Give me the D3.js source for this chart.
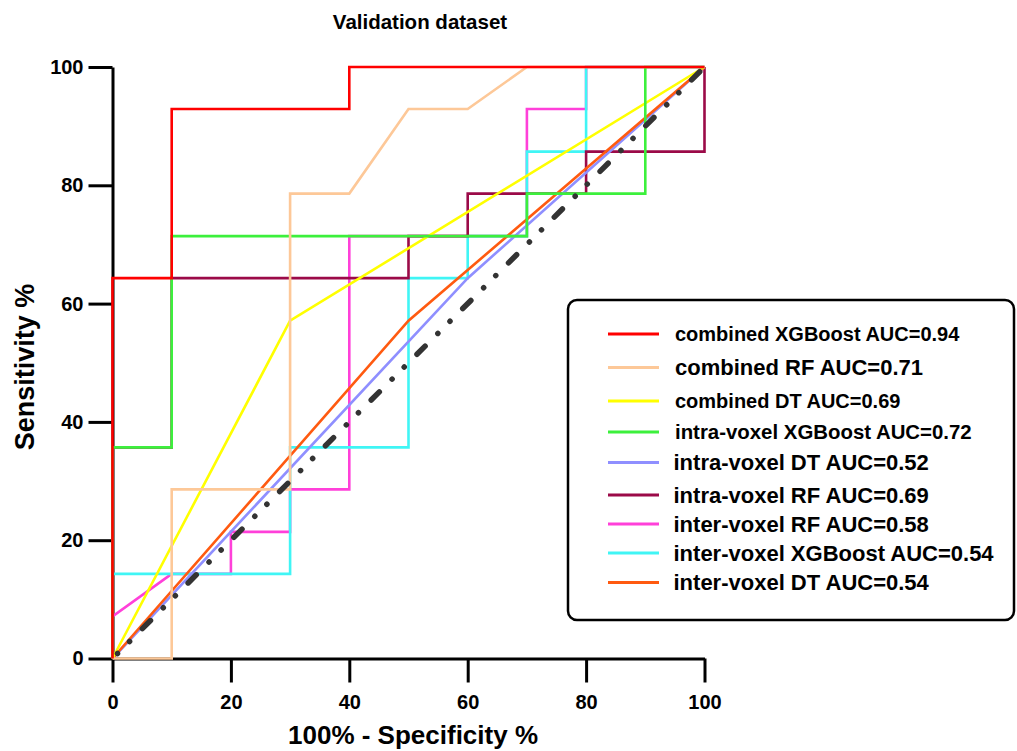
<!DOCTYPE html>
<html>
<head>
<meta charset="utf-8">
<script src="https://cdn.jsdelivr.net/npm/d3@7"></script>
<style>
  body { margin: 0; background: #fff; }
  svg text { font-family: "Liberation Sans", Arial, sans-serif; font-weight: bold; fill: #000; }
</style>
</head>
<body>
<div id="app"></div>
<script>
// ROC points: [100% - specificity, sensitivity]
const combinedXGB = [[0,0],[0,64.3],[10,64.3],[10,92.9],[40,92.9],[40,100],[100,100]]
const combinedRF = [[0,0],[10,0],[10,28.6],[30,28.6],[30,78.6],[40,78.6],[50,92.9],[60,92.9],[70,100],[100,100]]
const combinedDT = [[0,0],[30,57.1],[100,100]]
const intraXGB = [[0,0],[0,35.7],[10,35.7],[10,71.4],[70,71.4],[70,78.6],[90,78.6],[90,100],[100,100]]
const intraDT = [[0,0],[60,64.3],[100,100]]
const intraRF = [[0,0],[0,35.7],[10,35.7],[10,64.3],[50,64.3],[50,71.4],[60,71.4],[60,78.6],[80,78.6],[80,85.7],[100,85.7],[100,100]]
const interRF = [[0,0],[0,7.1],[10,14.3],[20,14.3],[20,21.4],[30,21.4],[30,28.6],[40,28.6],[40,71.4],[70,71.4],[70,92.9],[80,92.9],[80,100],[100,100]]
const interXGB = [[0,0],[0,14.3],[30,14.3],[30,35.7],[50,35.7],[50,64.3],[60,64.3],[60,71.4],[70,71.4],[70,85.7],[80,85.7],[80,100],[100,100]]
const interDT = [[0,0],[50,57.1],[100,100]]
const reference = [[0,0],[100,100]]

const series = [combinedXGB, combinedRF, combinedDT, intraXGB, intraDT, intraRF, interRF, interXGB, interDT]
const labels = [
  'combined XGBoost AUC=0.94',
  'combined RF AUC=0.71',
  'combined DT AUC=0.69',
  'intra-voxel XGBoost AUC=0.72',
  'intra-voxel DT AUC=0.52',
  'intra-voxel RF AUC=0.69',
  'inter-voxel RF AUC=0.58',
  'inter-voxel XGBoost AUC=0.54',
  'inter-voxel DT AUC=0.54'
]
const colors = ['#ff0000', '#fdc898', '#ffff00', '#3cf03c', '#8f8fff', '#9b0a48', '#ff40d9', '#40f5f5', '#ff5a10']
// which curve sits on top of which (bottom first)
const drawOrder = [6, 7, 5, 4, 8, 2, 3, 1, 0]
const ticks = [0, 20, 40, 60, 80, 100]

const W = 1017, H = 751
const svg = d3.select('#app').append('svg').attr('width', W).attr('height', H)

const x = d3.scaleLinear().domain([0, 100]).range([112.5, 704.5])
const y = d3.scaleLinear().domain([0, 100]).range([658.5, 67])

const line = d3.line().x(d => x(d[0])).y(d => y(d[1]))

// axes
const xAxis = svg.append('g')
  .attr('transform', `translate(0,${y(0)})`)
  .call(d3.axisBottom(x).tickValues(ticks).tickSize(24).tickSizeOuter(0).tickPadding(12))
const yAxis = svg.append('g')
  .attr('transform', `translate(${x(0)},0)`)
  .call(d3.axisLeft(y).tickValues(ticks).tickSize(24).tickSizeOuter(0).tickPadding(5))
;[xAxis, yAxis].forEach(g => {
  g.selectAll('path, line').attr('stroke', '#000').attr('stroke-width', 3)
  g.selectAll('text').style('font-size', '20px').attr('fill', '#000')
})

// curves
drawOrder.forEach(i => {
  svg.append('path')
    .datum(series[i])
    .attr('d', line)
    .attr('fill', 'none')
    .attr('stroke', colors[i])
    .attr('stroke-width', 2.6)
})

// chance line
svg.append('path')
  .datum(reference)
  .attr('d', line)
  .attr('fill', 'none')
  .attr('stroke', '#333')
  .attr('stroke-width', 5.5)
  .attr('stroke-linecap', 'round')
  .attr('stroke-dasharray', '11.5,18,0.1,17,0.1,18')
  .attr('stroke-dashoffset', 22.5)

// titles
svg.append('text')
  .attr('x', 420).attr('y', 29)
  .attr('text-anchor', 'middle')
  .style('font-size', '20.5px')
  .text('Validation dataset')

svg.append('text')
  .attr('x', 413).attr('y', 744)
  .attr('text-anchor', 'middle')
  .style('font-size', '26px')
  .text('100% - Specificity %')

svg.append('text')
  .attr('transform', 'translate(34,367) rotate(-90)')
  .attr('text-anchor', 'middle')
  .style('font-size', '27px')
  .text('Sensitivity %')

// legend
svg.append('rect')
  .attr('x', 568).attr('y', 300)
  .attr('width', 446).attr('height', 320)
  .attr('rx', 9)
  .attr('fill', '#fff')
  .attr('stroke', '#000')
  .attr('stroke-width', 2.5)

const legendY = [334, 367.5, 401, 432, 462.5, 495, 524, 553, 582.5]
const legendSize = [20, 22, 20, 20.4, 22, 22, 22, 22, 22]
const legend = svg.append('g')
labels.forEach((lab, i) => {
  legend.append('line')
    .attr('x1', 608).attr('x2', 659)
    .attr('y1', legendY[i]).attr('y2', legendY[i])
    .attr('stroke', colors[i])
    .attr('stroke-width', 3)
  legend.append('text')
    .attr('x', 675 - (i > 3 ? 1.5 : 0)).attr('y', legendY[i] + legendSize[i] * 0.36)
    .style('font-size', legendSize[i] + 'px')
    .text(lab)
})
</script>
</body>
</html>
